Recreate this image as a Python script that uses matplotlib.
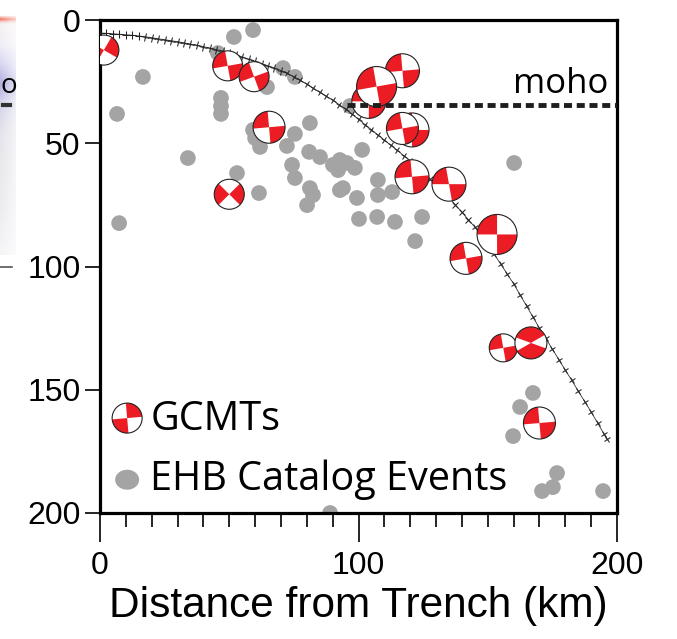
import numpy as np
import matplotlib
matplotlib.use("Agg")
import matplotlib.pyplot as plt
from matplotlib.patches import Circle, Wedge, Ellipse
from matplotlib.markers import MarkerStyle
from matplotlib.transforms import Affine2D, ScaledTranslation
from matplotlib.colors import LinearSegmentedColormap

# ---------------- data ----------------
# EHB catalog events: distance from trench (km), depth (km)
ehb_x = [59.2, 51.8, 16.6, 6.6, 7.4, 34.0, 53.0, 61.5, 46.8, 46.8, 46.8, 45.6, 64.6,
         59.2, 60.0, 61.9, 70.8, 75.4, 81.2, 75.4, 72.3, 80.9, 85.1, 90.1, 74.3, 75.4,
         81.2, 82.4, 80.1, 92.8, 92.8, 101.4, 98.6, 92.1, 94.0, 99.4, 107.5, 113.0,
         107.5, 96.7, 100.2, 107.2, 114.1, 124.6, 121.9, 160.2, 167.5, 162.5, 159.8,
         176.8, 175.2, 171.0, 194.6, 89.0, 95.5]
ehb_d = [4.1, 6.9, 23.1, 38.1, 82.4, 56.0, 62.1, 70.2, 31.6, 34.9, 38.1, 13.4, 27.2,
         44.6, 47.9, 51.5, 19.5, 23.1, 41.8, 46.2, 51.1, 53.5, 55.6, 58.8, 58.8, 64.1,
         68.2, 71.0, 75.1, 69.0, 56.8, 52.7, 60.0, 60.9, 68.2, 72.2, 64.9, 69.8,
         71.0, 34.9, 80.7, 79.9, 81.9, 79.9, 89.7, 58.0, 151.3, 157.0, 168.8,
         183.8, 189.5, 191.1, 191.1, 200.0, 58.0]

# GCMT focal mechanisms: distance (km), depth (km)
gcmt_x = [1.5, 49.4, 59.6, 65.4, 50.0, 117.0, 104.0, 107.0, 120.7, 117.0, 120.7,
          135.0, 153.6, 141.6, 156.0, 166.7, 170.0]
gcmt_d = [12.2, 18.6, 23.0, 43.5, 70.7, 20.6, 33.0, 27.0, 44.6, 44.0, 63.6,
          66.6, 87.0, 96.7, 133.0, 131.0, 163.5]
gcmt_size = [15, 15, 15, 16, 15, 17, 17, 20, 17, 16, 17, 17, 20, 16, 14, 16, 16]   # radius, px
gcmt_rot = [-30, 100, 110, 95, 135, 95, 90, 100, 90, 100, 95, 100, 90, 100, 100, 30, 95]
gcmt_span = [90, 90, 90, 90, 90, 90, 90, 90, 90, 90, 90, 80, 90, 90, 90, 130, 90]

# Slab surface (km)
slab_x = [0, 2.5, 5, 7.5, 10, 12.5, 15, 17.5, 20, 22.5, 25, 27.5, 30, 32.5, 35, 37.5,
          40, 42.5, 45, 47.5, 50, 52.5, 55, 57.5, 60, 62.5, 65, 67.5, 70, 72.5, 75,
          77.5, 80, 82.5, 85, 87.5, 90, 92.5, 95, 97.5, 100, 102.5, 105, 107.5, 110,
          112.5, 115, 117.5, 120, 122.5, 125, 127.5, 130, 132.5, 135, 137.5, 140,
          142.5, 145, 147.5, 150, 152.5, 155, 157.5, 160, 162.5, 165, 167.5, 170,
          172.5, 175, 177.5, 180, 182.5, 185, 187.5, 190, 192.5, 195, 196]
slab_d = [5.3, 5.4, 5.6, 5.8, 6.0, 6.2, 6.5, 6.8, 7.2, 7.6, 8.0, 8.4, 8.8, 9.3, 9.8,
          10.3, 10.8, 11.4, 12.0, 12.6, 13.3, 14.1, 15.0, 15.9, 16.8, 17.7, 18.6,
          19.5, 20.5, 21.7, 23.0, 24.5, 26.0, 27.7, 29.3, 30.9, 32.5, 34.3, 36.2,
          38.2, 40.3, 42.4, 44.5, 46.6, 48.7, 50.8, 52.9, 55.0, 57.0, 59.5, 62.0,
          64.5, 67.0, 69.5, 72.0, 75.0, 78.0, 81.0, 84.0, 87.5, 91.0, 95.0, 99.0,
          103.0, 107.0, 111.5, 116.0, 120.5, 125.0, 129.2, 133.5, 137.8, 142.0,
          146.2, 150.5, 154.8, 159.0, 163.5, 168.0, 170.0]

moho_depth = 34.6
moho_x = [95.5, 200]

x_ticks = [0, 100, 200]
x_minor = list(range(10, 200, 10))
y_ticks = [0, 50, 100, 150, 200]

RED = "#ec1c24"
GRAY = "#a4a4a4"
LEG_FONT = "Open Sans"

# ---------------- figure ----------------
W, H, DPI = 677, 639, 100
fig = plt.figure(figsize=(W / DPI, H / DPI), dpi=DPI)
fig.patch.set_facecolor("white")

# fragment of neighbouring panel at the left edge
axf = fig.add_axes([0, 1 - 255 / H, 16 / W, 240 / H])
axf.set_axis_off()
cols = [(0, "#fbfbfb"), (0.012, "#f2705c"), (0.03, "#f6f2f2"), (0.12, "#f0eef6"),
        (0.20, "#d8d6f0"), (0.28, "#b0aee0"), (0.36, "#d4d3ea"), (0.5, "#e4e4ea"),
        (0.8, "#ececf0"), (1.0, "#f5f5f7")]
cmap = LinearSegmentedColormap.from_list("frag", cols)
grad = np.linspace(0, 1, 200)[:, None] * np.ones((1, 20))
fade = np.linspace(1, 0.4, 20)[None, :]
rgba = cmap(grad)
rgba[..., :3] = 1 - (1 - rgba[..., :3]) * fade[..., None]
axf.imshow(rgba, aspect="auto", extent=[0, 1, 1, 0])
fig.text(0, 1 - 86 / H, "o", fontsize=20, family=LEG_FONT, va="center", ha="left")
fig.add_artist(plt.Line2D([0, 12 / W], [1 - 267 / H] * 2, color="#555555", lw=1.2))
fig.add_artist(plt.Line2D([3 / W, 10 / W], [1 - 105 / H] * 2, color="#333333", lw=3))

ax = fig.add_axes([100 / W, 1 - 513 / H, 517 / W, 493 / H])
ax.set_xlim(0, 200)
ax.set_ylim(200, 0)

for s in ax.spines.values():
    s.set_linewidth(2.3)

ax.set_xticks(x_ticks)
ax.set_xticks(x_minor, minor=True)
ax.set_yticks(y_ticks)
ax.tick_params(axis="x", which="major", direction="out", length=21, width=1.2,
               pad=6, labelsize=23)
ax.tick_params(axis="x", which="minor", direction="out", length=10, width=1.2)
ax.tick_params(axis="y", which="major", direction="out", length=11, width=1.2,
               pad=3, labelsize=23)
for lab in ax.get_xticklabels() + ax.get_yticklabels():
    lab.set_family("Liberation Sans")
ax.set_xlabel("Distance from Trench (km)", fontsize=30.5, family="Liberation Sans",
              labelpad=4)

# EHB events
ax.scatter(ehb_x, ehb_d, s=128, color=GRAY, edgecolors="none", zorder=2)

# slab surface: thin line with perpendicular ticks
ax.plot(slab_x, slab_d, color="#333333", lw=0.6, zorder=3)
sx = np.array(slab_x)
sd = np.array(slab_d)
xs_px = sx * (517 / 200)
ys_px = -sd * (493 / 200)
for i in range(len(sx)):
    j0, j1 = max(i - 1, 0), min(i + 1, len(sx) - 1)
    ang = np.degrees(np.arctan2(ys_px[j1] - ys_px[j0], xs_px[j1] - xs_px[j0]))
    m = MarkerStyle("+", transform=Affine2D().rotate_deg(ang))
    ax.plot(sx[i], sd[i], marker=m, ms=5.5, mew=0.75, color="#222222", zorder=3)


def beachball(axx, x, y, r_px, rot, span, trans_base, z=5):
    tr = fig.dpi_scale_trans + ScaledTranslation(x, y, trans_base)
    r = r_px / DPI
    axx.add_patch(Circle((0, 0), r, transform=tr, facecolor="white",
                         edgecolor="none", zorder=z))
    axx.add_patch(Wedge((0, 0), r, rot, rot + span, transform=tr,
                        facecolor=RED, edgecolor="none", zorder=z))
    axx.add_patch(Wedge((0, 0), r, rot + 180, rot + 180 + span, transform=tr,
                        facecolor=RED, edgecolor="none", zorder=z))
    axx.add_patch(Circle((0, 0), r, transform=tr, facecolor="none",
                         edgecolor="#222222", lw=0.8, zorder=z))


for i in range(len(gcmt_x)):
    beachball(ax, gcmt_x[i], gcmt_d[i], gcmt_size[i], gcmt_rot[i], gcmt_span[i],
              ax.transData, z=5 + i * 0.01)

# moho
ax.plot(moho_x, [moho_depth, moho_depth], color="#1e1e1e", lw=3.5,
        dashes=(1.65, 0.97), zorder=7, solid_capstyle="butt", dash_capstyle="butt")
ax.text(196.5, moho_depth - 1.6, "moho", fontsize=25, family=LEG_FONT, ha="right",
        va="bottom", zorder=8)

# legend
beachball(ax, 10.5, 161.5, 15, 5, 90, ax.transData, z=8)
ax.text(19.5, 162, "GCMTs", fontsize=28.5, family=LEG_FONT, va="center", ha="left")
ax.add_patch(Ellipse((0, 0), 24 / DPI, 20 / DPI,
                     transform=fig.dpi_scale_trans + ScaledTranslation(10.5, 186.5, ax.transData),
                     facecolor=GRAY, edgecolor="none"))
ax.text(19.5, 186.5, "EHB Catalog Events", fontsize=28.5, family=LEG_FONT, va="center",
        ha="left")

fig.savefig("out.png", dpi=DPI)
